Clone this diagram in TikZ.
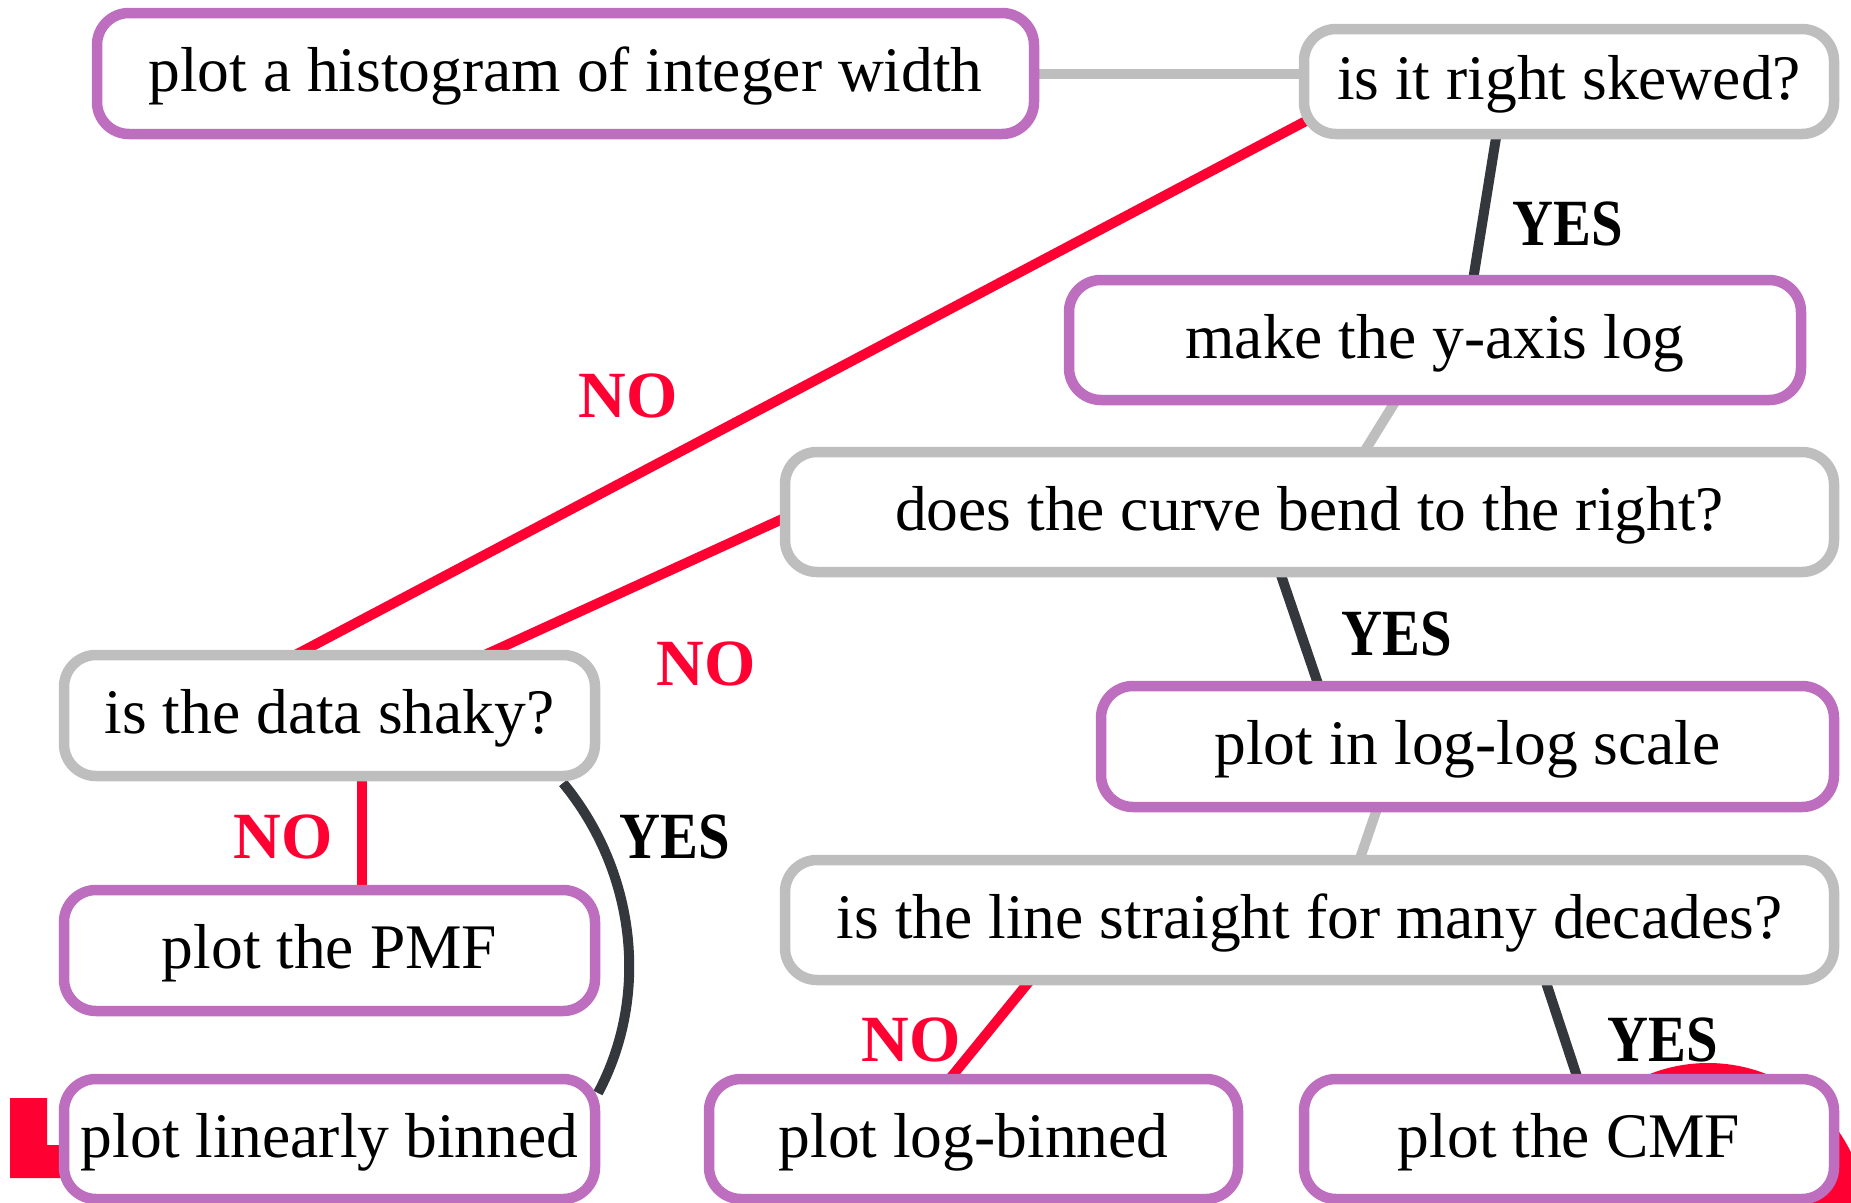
\documentclass[tikz,border=0pt]{standalone}
\usepackage{fontspec}
\setmainfont{Liberation Serif}
\usetikzlibrary{calc}
\definecolor{boxpurple}{HTML}{BE6EBE}
\definecolor{boxgray}{HTML}{BEBEBE}
\definecolor{nored}{HTML}{FF0033}
\definecolor{yesdark}{HTML}{34373C}
\pgfdeclarelayer{background}
\pgfsetlayers{background,main}
\tikzset{
  box/.style={draw, line width=10.5pt, rounded corners=32pt, fill=white,
    inner sep=0pt, minimum height=120pt, text height=46pt, text depth=10pt,
    font=\fontsize{63.5}{70}\selectfont},
  action/.style={box, draw=boxpurple},
  question/.style={box, draw=boxgray},
  lbl/.style={inner sep=0pt, font=\fontsize{66}{72}\selectfont\bfseries},
  nolabel/.style={lbl, text=nored},
  yeslabel/.style={lbl, text=black},
  noline/.style={draw=nored, line width=10pt},
  yesline/.style={draw=yesdark, line width=10pt},
  flowline/.style={draw=boxgray, line width=10pt},
}
\newcommand{\yestext}{\scalebox{0.86}[1]{YES}}
\begin{document}
\begin{tikzpicture}[x=1pt, y=-1pt]
\useasboundingbox (0,0) rectangle (1851,1202);

% boxes
\node[action, minimum width=937pt, minimum height=121pt] (hist) at (565.5,73.5) {plot a histogram of integer width};
\node[question, minimum width=530pt, minimum height=105pt] (skew) at (1569,81.5) {is it right skewed?};
\node[action, minimum width=732pt] (ylog) at (1435,340) {make the y-axis log};
\node[question, minimum width=1049pt] (bend) at (1309.5,512) {does the curve bend to the right?};
\node[question, minimum width=531pt, minimum height=121pt] (shaky) at (329.5,715.5) {is the data shaky?};
\node[action, minimum width=733pt, minimum height=121pt] (loglog) at (1467.5,746.5) {plot in log-log scale};
\node[question, minimum width=1049pt] (straight) at (1309.5,920) {is the line straight for many decades?};
\node[action, minimum width=531pt, minimum height=121pt] (pmf) at (329.5,950.5) {plot the PMF};
\node[action, minimum width=531pt] (linbin) at (329.5,1139) {plot linearly binned};
\node[action, minimum width=529pt] (logbin) at (973.5,1139) {plot log-binned};
\node[action, minimum width=530pt] (cmf) at (1569,1139) {plot the CMF};

% answer labels
\node[yeslabel] (y1) at (1568,224) {\yestext};
\node[nolabel] (n1) at (628,396) {NO};
\node[nolabel] (n2) at (706,664) {NO};
\node[yeslabel] (y2) at (1397,634) {\yestext};
\node[nolabel] (n3) at (283,837) {NO};
\node[yeslabel] (y3) at (675,837) {\yestext};
\node[nolabel] (n4) at (911,1040) {NO};
\node[yeslabel] (y4) at (1663,1040) {\yestext};

\begin{pgfonlayer}{background}
  % red marks showing behind the bottom boxes
  \fill[nored] (10,1098) -- (47,1098) -- (47,1145) -- (80,1145) -- (80,1178) -- (10,1178) -- cycle;
  \fill[nored] ($(cmf.center)+(139,83)$) circle[radius=159];

  % connectors
  \draw[flowline] (hist.east) -- (hist.east -| skew.west);
  \draw[yesline] ($(skew.center)+(-72,50)$) -- ($(ylog.center)+(38,-60)$);
  \draw[noline] ($(skew.center)+(-229,21.5)$) -- ($(shaky.center)+(-81.5,-35.5)$);
  \draw[flowline] ($(ylog.center)+(-32,49)$) -- ($(bend.center)+(46.5,-47)$);
  \draw[noline] ($(bend.center)+(-499.5,-5.6)$) -- ($(shaky.center)+(100.5,-35.5)$);
  \draw[yesline] ($(bend.center)+(-33,50)$) -- ($(loglog.center)+(-145,-49.5)$);
  \draw[flowline] ($(loglog.center)+(-88,55)$) -- ($(straight.center)+(46.5,-50)$);
  \draw[noline] ($(shaky.center)+(32,60)$) -- ($(pmf.center)+(32,-60)$);
  \draw[yesline] ($(shaky.center)+(233.5,67.5)$) .. controls +(71.7,86.8) and +(53,-99.3) .. ($(linbin.center)+(268.5,-46)$);
  \draw[noline] ($(straight.center)+(-276.7,57)$) -- ($(logbin.center)+(-27.8,-55.2)$);
  \draw[yesline] ($(straight.center)+(234.7,57)$) -- ($(cmf.center)+(10.3,-55.5)$);
\end{pgfonlayer}
\end{tikzpicture}
\end{document}
